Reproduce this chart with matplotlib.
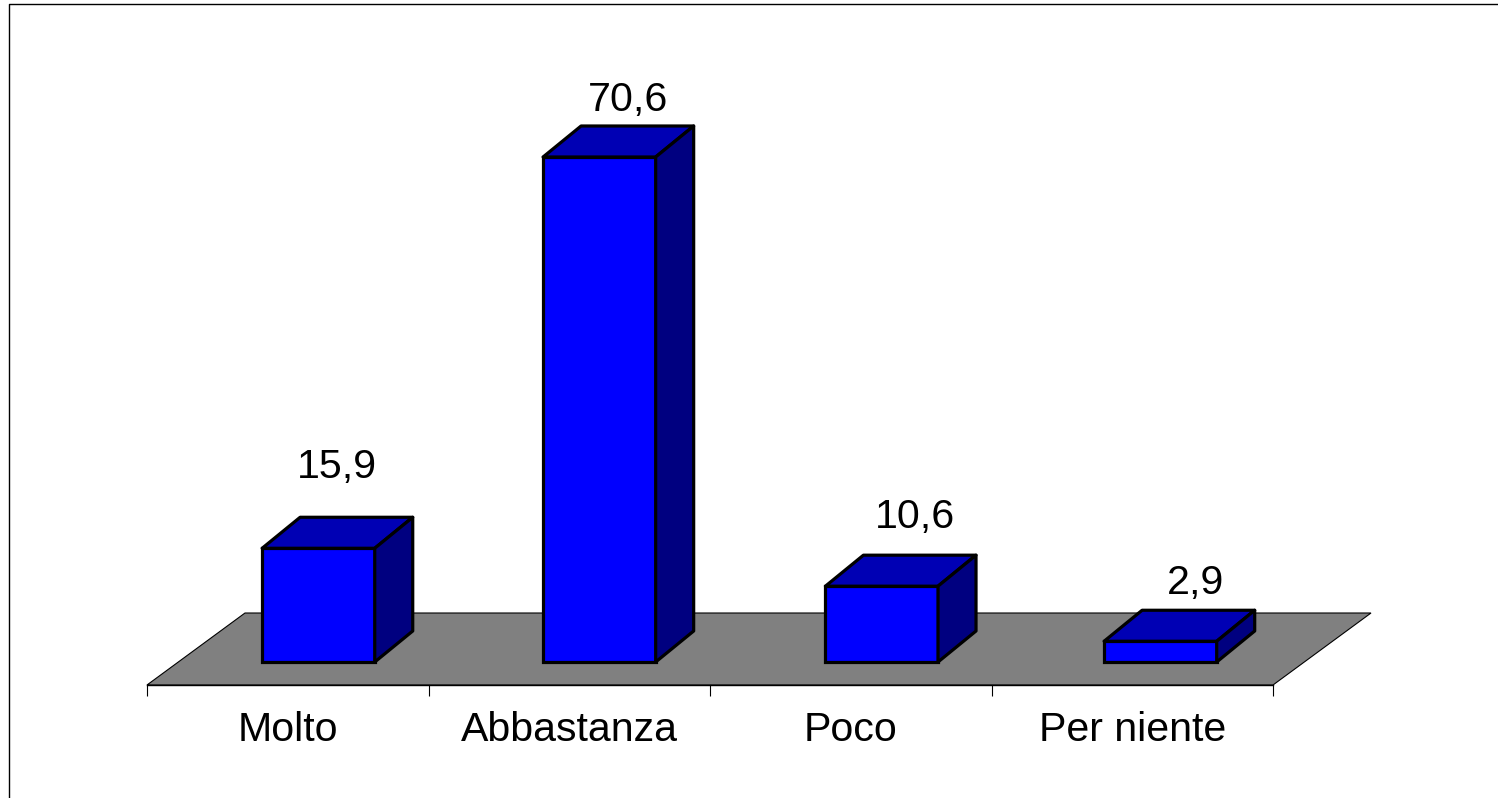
import matplotlib
matplotlib.use("Agg")
import matplotlib.pyplot as plt
from matplotlib.lines import Line2D
from matplotlib.patches import Polygon

plt.rcParams["font.family"] = ["Liberation Sans", "DejaVu Sans"]

categories = ["Molto", "Abbastanza", "Poco", "Per niente"]
values = [15.9, 70.6, 10.6, 2.9]
value_labels = ["15,9", "70,6", "10,6", "2,9"]

W, H = 1498, 798
px_per_x = 281.5
px_per_y = 7.153
y_base = -23 / px_per_y
depth_x = 38 / px_per_x
depth_y = 31 / px_per_y
floor_x = 98 / px_per_x
floor_y = 72 / px_per_y
bar_width = 0.40
bar_shift = [0.609, 0.607, 0.610, 0.600]
# value labels were placed by hand in the original: offsets from the bar's back edge, in px
label_dx = [0, 10, 14, 16]
label_gap = [39, 15, 27, 16]

fig = plt.figure(figsize=(W / 100, H / 100), dpi=100, facecolor="white")
ax = fig.add_axes([147 / W, (H - 685) / H, 1126 / W, 681 / H])
ax.set_xlim(0, 4)
ax.set_ylim(y_base, y_base + 681 / px_per_y)
ax.patch.set_visible(False)
for s in ["top", "left", "right"]:
    ax.spines[s].set_visible(False)
ax.spines["bottom"].set_linewidth(1.0)
ax.set_yticks([])

ax.set_xticks(range(5))
ax.set_xticklabels([])
ax.tick_params(axis="x", which="major", length=8, width=0.8, color="black")
ax.set_xticks([i + 0.5 for i in range(4)], minor=True)
ax.set_xticklabels(categories, minor=True, fontsize=29.6)
ax.tick_params(axis="x", which="minor", length=0, pad=19)

# grey floor of the 3D chart
ax.add_patch(Polygon(
    [(0, y_base), (floor_x, y_base + floor_y), (4 + floor_x, y_base + floor_y), (4, y_base)],
    closed=True, facecolor="#808080", edgecolor="black", linewidth=0.8, zorder=1,
    clip_on=False,
))

xs = [i + s for i, s in enumerate(bar_shift)]
ax.bar(xs, values, width=bar_width, color="#0000ff", edgecolor="black", linewidth=2.3, zorder=3)

for x, v, dx, gap, lab in zip(xs, values, label_dx, label_gap, value_labels):
    l = x - bar_width / 2
    r = x + bar_width / 2
    ax.add_patch(Polygon(
        [(l, v), (l + depth_x, v + depth_y), (r + depth_x, v + depth_y), (r, v)],
        closed=True, facecolor="#0000b4", edgecolor="black", linewidth=2.3,
        joinstyle="round", zorder=3, clip_on=False,
    ))
    ax.add_patch(Polygon(
        [(r, 0), (r + depth_x, depth_y), (r + depth_x, v + depth_y), (r, v)],
        closed=True, facecolor="#000080", edgecolor="black", linewidth=2.3,
        joinstyle="round", zorder=3, clip_on=False,
    ))
    ax.annotate(lab, (x + depth_x / 2, v + depth_y), xytext=(dx * 0.72, gap * 0.72),
                textcoords="offset points", ha="center", va="baseline",
                fontsize=29.6, color="black", zorder=4)

# outer frame, cut off by the right and bottom of the image
fig.add_artist(Line2D([9 / W, 9 / W, 1], [0, (H - 4) / H, (H - 4) / H],
                      color="black", linewidth=1.0, transform=fig.transFigure))

fig.savefig("out.png", dpi=100)
